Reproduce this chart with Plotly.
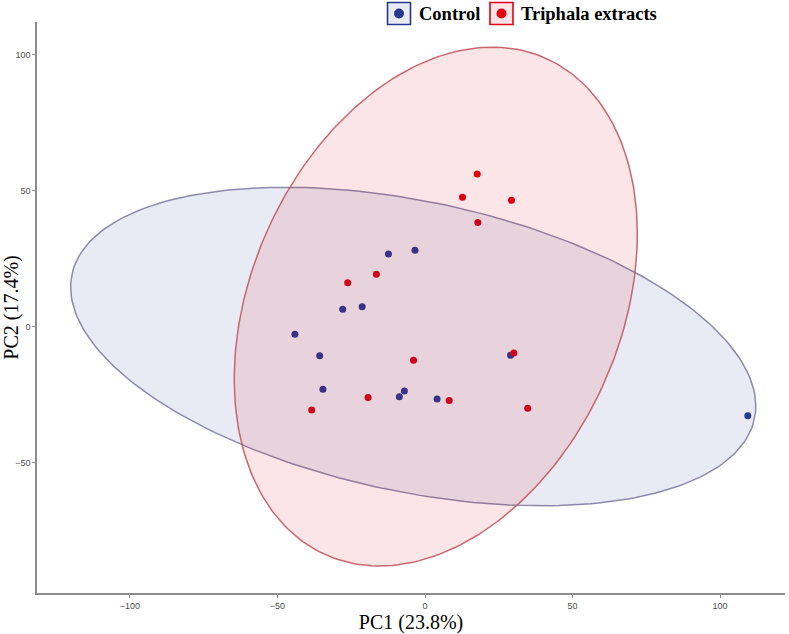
import numpy as np
import plotly.graph_objects as go

# ---- data ----
groups = ["Control", "Triphala extracts"]

control_pc1 = [-12.4, -3.4, -27.9, -21.3, -44.1, -35.7, 29.0, -34.6, -8.7, -7.0, 4.1, 109.4]
control_pc2 = [26.7, 28.1, 6.4, 7.3, -2.8, -10.7, -10.5, -23.0, -25.8, -23.7, -26.6, -32.8]

triphala_pc1 = [17.7, 12.7, 29.3, 17.9, -26.2, -16.5, -3.9, 30.1, -19.3, 8.2, -38.4, 34.8]
triphala_pc2 = [56.2, 47.6, 46.5, 38.3, 16.2, 19.3, -12.4, -9.7, -26.1, -27.2, -30.7, -30.0]

# 95% ellipses: centre (pc1, pc2) and covariance-like shape (xx, yy, xy)
control_ellipse_center = [-4.0, -7.3]
control_ellipse_shape = [116.1 ** 2, 58.6 ** 2, -2542.0]
triphala_ellipse_center = [3.65, 7.4]
triphala_ellipse_shape = [68.3 ** 2, 95.45 ** 2, 1824.0]

x_ticks = [-100, -50, 0, 50, 100]
y_ticks = [-50, 0, 50, 100]
x_title = "PC1 (23.8%)"
y_title = "PC2 (17.4%)"

# ---- styling ----
navy = "#283891"
red = "#E00010"
navy_fill = "rgba(40,56,145,0.10)"
red_fill = "rgba(224,0,16,0.10)"
navy_line = "rgba(128,126,162,0.9)"
red_line = "rgba(195,88,98,0.9)"

W, H = 789, 634
L, R, T, B = 37, 4, 22, 41


def ellipse_xy(center, shape, n=240):
    sxx, syy, sxy = shape
    a = np.sqrt(sxx)
    c = sxy / a
    d = np.sqrt(syy - c * c)
    t = np.linspace(0, 2 * np.pi, n)
    return center[0] + a * np.cos(t), center[1] + c * np.cos(t) + d * np.sin(t)


fig = go.Figure()

fig.add_trace(go.Scatter(x=control_pc1, y=control_pc2, mode="markers", name=groups[0],
                         marker=dict(color=navy, size=7), showlegend=False))
fig.add_trace(go.Scatter(x=triphala_pc1, y=triphala_pc2, mode="markers", name=groups[1],
                         marker=dict(color=red, size=7), showlegend=False))

ex, ey = ellipse_xy(control_ellipse_center, control_ellipse_shape)
fig.add_trace(go.Scatter(x=ex, y=ey, mode="lines", fill="toself", fillcolor=navy_fill,
                         line=dict(color=navy_line, width=1.5), hoverinfo="skip",
                         showlegend=False))
ex, ey = ellipse_xy(triphala_ellipse_center, triphala_ellipse_shape)
fig.add_trace(go.Scatter(x=ex, y=ey, mode="lines", fill="toself", fillcolor=red_fill,
                         line=dict(color=red_line, width=1.5), hoverinfo="skip",
                         showlegend=False))

# ---- manual legend (boxed keys, as in the reference) ----
pw, ph = W - L - R, H - T - B


def px(x):
    return (x - L) / pw


def py(y):
    return (H - B - y) / ph


legend_items = [
    (groups[0], navy, navy_fill, 387.5, 410.5, 416.5),
    (groups[1], red, red_fill, 490.0, 513.0, 518.5),
]
for label, col, fillc, x0, x1, tx in legend_items:
    fig.add_shape(type="rect", xref="paper", yref="paper",
                  x0=px(x0), x1=px(x1), y0=py(24.5), y1=py(2.5),
                  line=dict(color=col, width=1.6), fillcolor=fillc, layer="above")
    cx = (x0 + x1) / 2
    fig.add_shape(type="circle", xref="paper", yref="paper",
                  x0=px(cx - 5), x1=px(cx + 5), y0=py(18.5), y1=py(8.5),
                  line=dict(color=col, width=0), fillcolor=col, layer="above")
    fig.add_annotation(text="<b>" + label + "</b>", xref="paper", yref="paper",
                       x=px(tx), y=py(14), xanchor="left", yanchor="middle",
                       showarrow=False,
                       font=dict(family="Liberation Serif", size=18.5, color="black"))

axis_common = dict(showgrid=False, zeroline=False, showline=True, linecolor="#8c8c8c",
                   linewidth=1.5, ticks="outside", ticklen=3, tickcolor="#8c8c8c",
                   tickwidth=1, automargin=False,
                   tickfont=dict(family="Liberation Sans", size=9, color="#4d4d4d"))

fig.update_layout(
    width=W, height=H,
    margin=dict(l=L, r=R, t=T, b=B, autoexpand=False),
    paper_bgcolor="white", plot_bgcolor="white",
    showlegend=False,
    xaxis=dict(range=[-131.5, 122.0], tickvals=x_ticks,
               title=dict(text=x_title, standoff=2,
                          font=dict(family="Liberation Serif", size=20, color="black")),
               **axis_common),
    yaxis=dict(range=[-98.0, 112.1], tickvals=y_ticks,
               title=dict(text=y_title, standoff=0,
                          font=dict(family="Liberation Serif", size=20, color="black")),
               **axis_common),
)

# remove the default 8px page margin so the figure fills the window exactly
fig.write_html("out.html", config={"displayModeBar": False},
               post_script="document.body.style.margin='0';")
